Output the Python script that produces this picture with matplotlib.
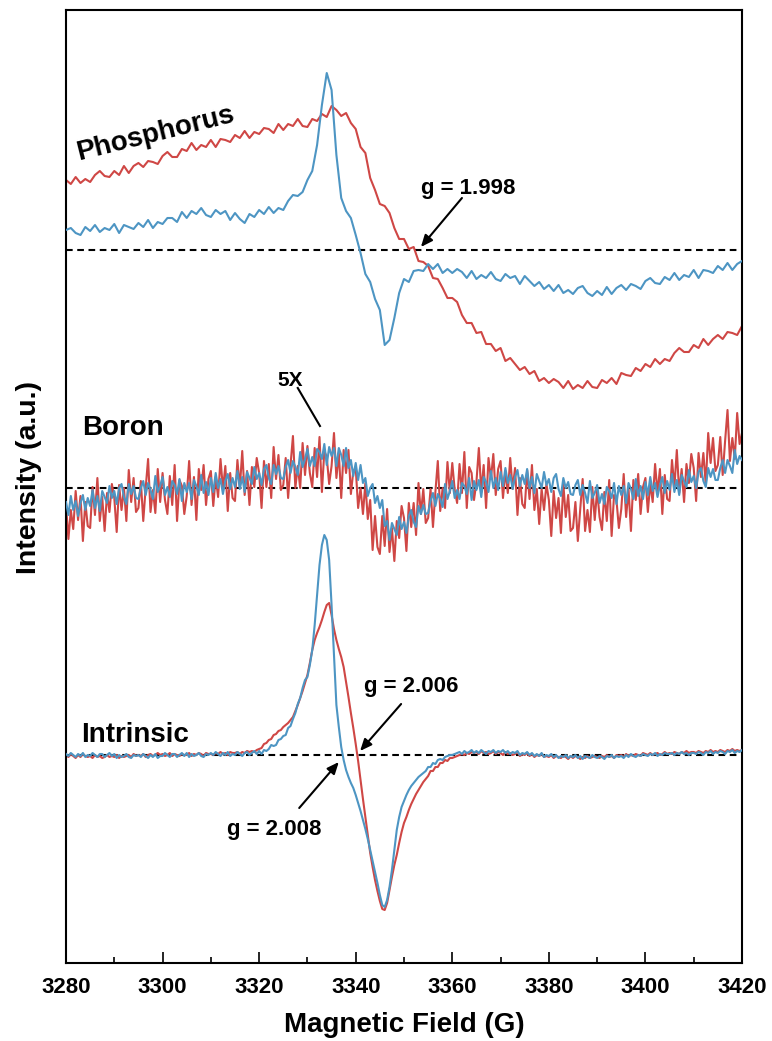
import numpy as np
import matplotlib
matplotlib.use("Agg")
import matplotlib.pyplot as plt
from matplotlib.ticker import MultipleLocator

plt.rcParams['font.family'] = ['Liberation Sans', 'DejaVu Sans']

# ---------------- data (intensity relative to each dashed baseline, a.u.) ----------------
field_start, field_end = 3280, 3420

# Phosphorus (1 G step)
P_red = [70,66,73,67,71,68,75,79,74,73,79,75,84,77,84,87,83,89,88,86,
         94,98,93,93,101,99,107,100,105,103,110,103,111,110,108,115,112,119,112,118,
         116,122,121,117,126,120,126,124,131,124,123,131,129,136,133,144,140,134,137,127,
         121,103,97,72,60,46,44,37,22,11,11,1,3,-11,-12,-16,-28,-29,-38,-48,
         -48,-52,-65,-73,-73,-83,-82,-94,-94,-101,-98,-111,-108,-114,-120,-117,-124,-121,-131,-128,
         -133,-129,-132,-138,-131,-139,-135,-138,-131,-137,-138,-130,-133,-128,-134,-123,-125,-126,-118,-121,
         -114,-117,-109,-114,-109,-111,-103,-98,-102,-102,-95,-98,-89,-95,-89,-85,-89,-82,-83,-85,
         -76]
P_blue = [20,22,17,15,23,19,25,18,22,20,26,17,25,23,21,27,23,30,22,28,
          26,32,32,28,38,32,39,36,42,35,33,40,36,39,30,37,31,27,36,33,
          40,36,43,37,42,40,49,55,54,58,70,79,105,145,177,160,95,52,39,32,
          15,-3,-24,-32,-49,-60,-95,-90,-68,-43,-29,-32,-21,-20,-21,-14,-19,-14,-23,-19,
          -23,-19,-22,-28,-21,-29,-25,-28,-22,-29,-31,-24,-28,-26,-34,-26,-31,-36,-32,-39,
          -35,-41,-35,-43,-40,-44,-38,-36,-43,-46,-41,-45,-37,-44,-38,-35,-40,-34,-36,-39,
          -31,-28,-33,-34,-27,-30,-23,-30,-25,-27,-20,-28,-20,-21,-23,-16,-20,-13,-20,-14,
          -11]

# Boron, 5X (0.5 G step)
B_red = [-17,-51,-22,-41,-3,-32,-8,-53,-14,-38,
         -40,1,-27,10,-33,-9,-43,-5,-24,4,
         -10,-44,3,-22,0,-33,18,-14,10,-24,
         -20,7,-33,0,29,-24,-2,-25,19,-14,
         15,-12,-26,12,-17,23,-33,8,2,-26,
         -8,27,-17,11,-32,19,-2,23,-17,9,
         17,-18,11,-9,29,-1,22,-23,15,-10,
         -13,28,0,37,-7,17,-17,21,1,30,
         15,-20,27,1,24,-10,41,9,33,-2,
         3,30,-10,23,52,0,22,0,45,13,
         42,15,1,40,11,51,-4,37,31,4,
         22,55,10,35,-10,38,15,38,-6,17,
         20,-20,0,-26,5,-31,-12,-62,-28,-59,
         -66,-28,-58,-21,-64,-40,-73,-33,-50,-18,
         -30,-63,-15,-39,-15,-47,5,-26,-1,-35,
         -30,-1,-39,-4,27,-23,0,-20,26,-5,
         25,-2,-15,24,-5,36,-20,21,15,-12,
         6,40,-4,23,-20,30,9,34,-7,19,
         27,-10,17,-5,30,-1,20,-27,10,-16,
         -20,18,-11,23,-22,-1,-36,-1,-22,4,
         -12,-48,-3,-30,-10,-45,4,-29,-7,-43,
         -40,-14,-53,-21,9,-43,-22,-44,1,-32,
         -2,-29,-42,-4,-33,8,-48,-7,-12,-40,
         -21,14,-29,-1,-43,8,-12,14,-26,1,
         10,-24,5,-14,24,-5,19,-26,13,-11,
         -13,28,1,38,-5,19,-14,24,5,34,
         20,-13,35,11,35,3,55,25,50,17,
         23,51,13,47,78,27,50,29,75,44,
         55]
B_blue = [-14,-27,-8,-22,-13,-28,-15,-7,-22,-10,
          -18,-2,-20,-8,-23,-3,-9,-15,2,-10,
          -3,-16,0,4,-9,-16,4,-6,2,-10,
          -11,0,7,-7,5,-2,-11,12,-4,2,
          11,-7,1,-9,7,3,-6,9,-13,5,
          -4,5,-11,8,2,-7,13,-5,6,-7,
          10,-4,15,0,9,-6,7,14,-1,10,
          1,17,-1,11,-4,16,10,4,21,9,
          15,3,19,23,10,4,23,14,22,10,
          9,21,28,15,27,21,13,36,21,29,
          39,22,31,22,39,36,29,44,23,41,
          32,40,22,40,33,22,40,20,28,12,
          25,8,23,5,10,-8,0,4,-15,-8,
          -20,-12,-38,-33,-52,-35,-41,-47,-29,-41,
          -34,-45,-28,-22,-34,-39,-18,-26,-17,-26,
          -25,-13,-5,-18,-6,-11,-19,4,-11,-3,
          7,-10,-2,-11,5,2,-6,10,-12,7,
          -2,8,-9,11,6,-4,17,0,10,-2,
          16,2,20,5,13,-1,11,18,2,13,
          4,19,0,11,-5,14,7,0,16,3,
          9,-4,10,14,-1,-8,10,0,6,-6,
          -7,3,8,-7,3,-5,-15,7,-10,-5,
          3,-15,-6,-16,1,-3,-10,5,-16,2,
          -7,2,-15,5,-1,-11,9,-8,2,-11,
          6,-7,11,-3,5,-9,3,11,-5,7,
          -2,14,-4,8,-7,13,7,1,18,6,
          12,0,16,20,7,1,20,11,19,8,
          8,20,28,15,28,22,15,38,24,32,
          28]

# Intrinsic (0.5 G step)
I_red = [0,-2,1,-1,-3,0,-2,1,-1,-2,
         -1,-3,0,-2,-1,-3,-2,0,-2,-1,
         -2,0,-3,-1,-2,-1,0,-2,1,-1,
         0,-1,1,-2,0,1,-1,0,2,0,
         1,-1,0,2,-1,1,0,-1,1,0,
         0,2,-1,1,0,2,1,-1,2,1,
         1,0,2,1,3,1,2,0,3,2,
         2,3,1,3,2,4,3,4,3,5,
         6,7,11,12,15,16,20,21,24,25,
         28,30,32,35,38,44,50,57,64,72,
         80,92,105,115,122,128,135,143,150,152,
         140,126,115,106,98,88,73,58,42,27,
         11,-6,-25,-44,-62,-80,-98,-112,-125,-136,
         -146,-154,-155,-148,-135,-122,-110,-100,-88,-77,
         -68,-62,-55,-49,-44,-39,-35,-31,-27,-24,
         -21,-16,-16,-12,-12,-8,-8,-5,-6,-3,
         -3,-2,-1,0,1,0,2,1,3,2,
         3,1,4,2,3,1,2,4,1,3,
         2,0,3,1,2,0,1,3,-1,1,
         0,2,-1,1,-2,0,-1,1,-2,-1,
         -2,0,-3,-1,-2,-3,-1,-2,-4,-1,
         -3,-1,-2,-4,-2,-3,-1,-3,-2,-1,
         -2,-3,-1,-2,0,-2,-1,-3,0,-1,
         0,-2,1,-1,0,-1,1,0,-1,2,
         1,0,2,0,1,2,0,1,3,1,
         2,1,3,2,1,3,2,4,2,3,
         3,2,4,3,2,4,3,5,3,4,
         3,5,4,3,5,4,6,4,5,4,
         5]
I_blue = [1,-1,2,0,-2,1,-1,2,-2,0,
          -1,2,0,-2,1,1,-2,0,2,-1,
          1,-3,0,-2,-1,1,-2,-3,0,-1,
          0,-2,1,-1,-3,0,-2,1,-3,-1,
          -1,2,0,-2,1,1,-2,0,2,-1,
          2,-2,1,-1,0,2,-1,-2,1,0,
          2,0,3,1,-1,2,0,3,-1,1,
          0,3,1,-1,2,3,0,2,4,1,
          4,1,5,4,6,10,9,10,15,16,
          19,20,27,29,36,42,51,57,67,75,
          78,90,105,130,160,190,210,220,215,195,
          150,100,50,28,8,-5,-15,-22,-28,-33,
          -40,-48,-56,-65,-74,-84,-95,-106,-117,-128,
          -140,-150,-152,-145,-132,-115,-95,-75,-62,-52,
          -46,-40,-35,-31,-28,-25,-22,-20,-18,-16,
          -12,-12,-8,-9,-5,-4,-5,-2,-1,0,
          0,1,2,3,1,4,2,3,5,2,
          4,2,5,3,1,4,3,5,2,4,
          3,5,2,4,1,3,2,4,0,2,
          1,3,0,2,-1,1,-1,2,-2,0,
          -1,1,-2,0,-3,-1,-2,0,-3,-1,
          -2,0,-3,-1,-4,-1,-2,-3,0,-2,
          -3,-1,-2,-4,-1,-2,0,-3,-1,-2,
          -1,-3,0,-2,1,-1,-2,0,-1,1,
          0,-1,1,0,2,-1,1,0,2,1,
          1,2,0,2,1,3,1,2,0,2,
          2,1,3,2,0,3,2,4,1,3,
          2,4,3,1,4,3,5,2,4,3,
          5]

# vertical offsets (baselines) of the three stacked spectra
offset_P, offset_B, offset_I = 713, 475, 208

RED = '#cf4745'
BLUE = '#4d95c3'

fig = plt.figure(figsize=(7.72, 10.41), dpi=100)
ax = fig.add_axes([66/772, 1-963/1041, 676/772, 953/1041])

def fld(vals):
    return np.linspace(field_start, field_end, len(vals))

for off, r, b in [(offset_P, P_red, P_blue), (offset_B, B_red, B_blue), (offset_I, I_red, I_blue)]:
    ax.axhline(off, color='black', lw=1.5, ls=(0, (3.2, 2.2)), zorder=1)
    ax.plot(fld(r), np.array(r) + off, color=RED, lw=1.5, zorder=2)
    ax.plot(fld(b), np.array(b) + off, color=BLUE, lw=1.5, zorder=3)

ax.set_xlim(3280, 3420)
ax.set_ylim(0, 953)
ax.set_yticks([])
ax.xaxis.set_major_locator(MultipleLocator(20))
ax.xaxis.set_minor_locator(MultipleLocator(10))
ax.tick_params(axis='x', which='major', direction='in', length=8, width=1.2, pad=10)
ax.tick_params(axis='x', which='minor', direction='in', length=4.5, width=1.2)
for s in ax.spines.values():
    s.set_linewidth(1.5)

for lab in ax.get_xticklabels():
    lab.set_fontweight('bold')
    lab.set_fontsize(16)

fig.text(404/772, 1-1032/1041, 'Magnetic Field (G)', fontsize=20, fontweight='bold',
         ha='center', va='baseline')
fig.text(29/772, 1-477/1041, 'Intensity (a.u.)', rotation=90, fontsize=20.5, fontweight='bold',
         ha='center', va='center')

# curve labels
ax.text(3298.8, 822, 'Phosphorus', rotation=14, rotation_mode='anchor', fontsize=20,
        fontweight='bold', ha='center', va='baseline')
ax.text(3291.8, 528, 'Boron', fontsize=20, fontweight='bold', ha='center', va='baseline')
ax.text(3294.3, 221, 'Intrinsic', fontsize=20, fontweight='bold', ha='center', va='baseline')

# annotations
ax.text(3326.4, 577, '5X', fontsize=15, fontweight='bold', ha='center', va='baseline')
ax.plot([3328.0, 3332.6], [575, 537], color='black', lw=1.5)

arrow = dict(arrowstyle='-|>,head_length=0.7,head_width=0.3', lw=1.5, color='black',
             shrinkA=0, shrinkB=0)
ax.text(3363.2, 769, 'g = 1.998', fontsize=16, fontweight='bold', ha='center', va='baseline')
ax.annotate('', xy=(3353.5, 716), xytext=(3362.0, 765), arrowprops=arrow)
ax.text(3351.4, 271, 'g = 2.006', fontsize=16, fontweight='bold', ha='center', va='baseline')
ax.annotate('', xy=(3340.9, 212), xytext=(3349.4, 259), arrowprops=arrow)
ax.text(3323.2, 128, 'g = 2.008', fontsize=16, fontweight='bold', ha='center', va='baseline')
ax.annotate('', xy=(3336.5, 201), xytext=(3328.3, 155), arrowprops=arrow)

fig.savefig('out.png', dpi=100)
